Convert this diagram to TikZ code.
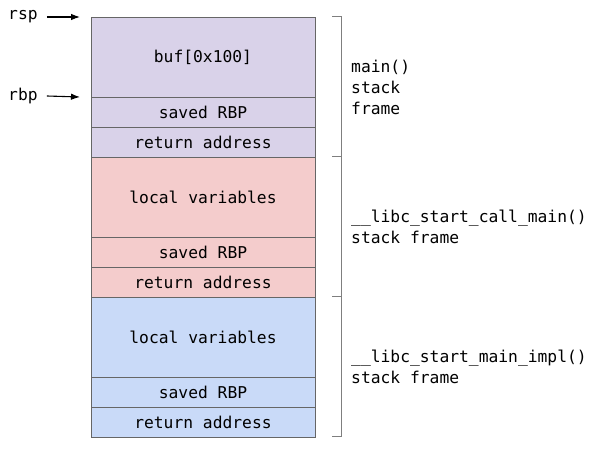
\documentclass[tikz,border=0pt]{standalone}
\usepackage{fontspec}
\setmonofont{DejaVu Sans Mono}
\usetikzlibrary{arrows.meta,positioning,calc}
\definecolor{frameMain}{HTML}{D9D2E9}
\definecolor{frameCall}{HTML}{F4CCCC}
\definecolor{frameImpl}{HTML}{C9DAF8}
\definecolor{slotLine}{HTML}{666666}
\definecolor{braceLine}{HTML}{7F7F7F}

\begin{document}
\begin{tikzpicture}[x=1pt, y=1pt,
    slot/.style={rectangle, draw=slotLine, line width=0.8pt, minimum width=224pt, minimum height=30pt, inner sep=0pt, outer sep=0pt, font=\ttfamily\fontsize{16.3}{21}\selectfont},
    bigslot/.style={slot, minimum height=80pt},
    label/.style={anchor=west, align=left, inner sep=0pt, font=\ttfamily\fontsize{16.3}{21}\selectfont},
    ptr/.style={-{Latex[length=9pt, width=6.5pt]}, line width=1.1pt},
    brace/.style={draw=braceLine, line width=1pt}
  ]
  \useasboundingbox (0,0) rectangle (600,450);
  % main() frame
  \node[bigslot, fill=frameMain] (buf) at (203,393) {buf[0x100]};
  \node[slot, fill=frameMain, below=0pt of buf] (rbp1) {saved RBP};
  \node[slot, fill=frameMain, below=0pt of rbp1] (ret1) {return address};
  % __libc_start_call_main() frame
  \node[bigslot, fill=frameCall, below=0pt of ret1] (loc2) {local variables};
  \node[slot, fill=frameCall, below=0pt of loc2] (rbp2) {saved RBP};
  \node[slot, fill=frameCall, below=0pt of rbp2] (ret2) {return address};
  % __libc_start_main_impl() frame
  \node[bigslot, fill=frameImpl, below=0pt of ret2] (loc3) {local variables};
  \node[slot, fill=frameImpl, below=0pt of loc3] (rbp3) {saved RBP};
  \node[slot, fill=frameImpl, below=0pt of rbp3] (ret3) {return address};

  % registers
  \node[label] (rsp) at (8,433) {rsp};
  \node[label] (rbp) at (8,354) {rbp};
  \draw[ptr] ([xshift=9pt]rsp.east) -- ([xshift=-11pt]buf.north west);
  \draw[ptr] ([xshift=9pt]rbp.east) -- ([xshift=-11pt]buf.south west);

  % brackets
  \coordinate (t1) at ([xshift=17pt]buf.north east);
  \coordinate (t2) at ([xshift=17pt]ret1.south east);
  \coordinate (t3) at ([xshift=17pt]ret2.south east);
  \coordinate (t4) at ([xshift=17pt]ret3.south east);
  \draw[brace] (t1) -- ++(9,0) |- (t2);
  \draw[brace] (t2) -- ++(9,0) |- (t3);
  \draw[brace] (t3) -- ++(9,0) |- (t4);

  \node[label] (mainlbl) at ($(t1)!0.5!(t2)+(19,0)$) {main()\\stack\\frame};
  \node[label] (calllbl) at ($(t2)!0.5!(t3)+(19,0)$) {\_\_libc\_start\_call\_main()\\stack frame};
  \node[label] (impllbl) at ($(t3)!0.5!(t4)+(19,0)$) {\_\_libc\_start\_main\_impl()\\stack frame};
\end{tikzpicture}
\end{document}
